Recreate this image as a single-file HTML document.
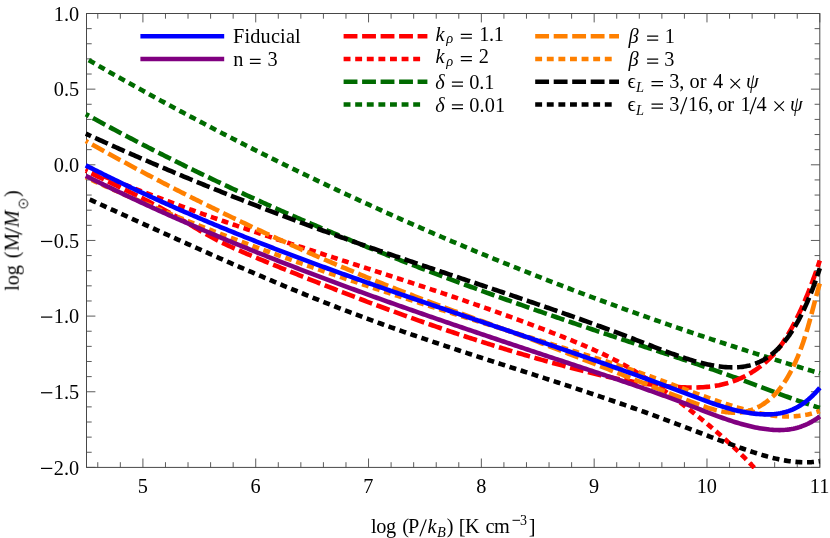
<!DOCTYPE html>
<html><head><meta charset="utf-8"><title>plot</title>
<style>html,body{margin:0;padding:0;background:#fff;}svg{display:block;} text{-webkit-font-smoothing:antialiased;}</style></head>
<body>
<svg width="830" height="538" viewBox="0 0 830 538">
<rect x="0" y="0" width="830" height="538" fill="#ffffff"/>
<defs><clipPath id="cp"><rect x="80.5" y="13.0" width="745.3" height="455.9"/></clipPath></defs>
<rect x="86.50" y="13.50" width="733.30" height="453.90" fill="none" stroke="#484848" stroke-width="1"/>
<path d="M97.78,467.40v-5.2M97.78,13.50v5.2M120.34,467.40v-5.2M120.34,13.50v5.2M142.91,467.40v-8.9M142.91,13.50v8.9M165.47,467.40v-5.2M165.47,13.50v5.2M188.03,467.40v-5.2M188.03,13.50v5.2M210.60,467.40v-5.2M210.60,13.50v5.2M233.16,467.40v-5.2M233.16,13.50v5.2M255.72,467.40v-8.9M255.72,13.50v8.9M278.29,467.40v-5.2M278.29,13.50v5.2M300.85,467.40v-5.2M300.85,13.50v5.2M323.41,467.40v-5.2M323.41,13.50v5.2M345.98,467.40v-5.2M345.98,13.50v5.2M368.54,467.40v-8.9M368.54,13.50v8.9M391.10,467.40v-5.2M391.10,13.50v5.2M413.66,467.40v-5.2M413.66,13.50v5.2M436.23,467.40v-5.2M436.23,13.50v5.2M458.79,467.40v-5.2M458.79,13.50v5.2M481.35,467.40v-8.9M481.35,13.50v8.9M503.92,467.40v-5.2M503.92,13.50v5.2M526.48,467.40v-5.2M526.48,13.50v5.2M549.04,467.40v-5.2M549.04,13.50v5.2M571.61,467.40v-5.2M571.61,13.50v5.2M594.17,467.40v-8.9M594.17,13.50v8.9M616.73,467.40v-5.2M616.73,13.50v5.2M639.30,467.40v-5.2M639.30,13.50v5.2M661.86,467.40v-5.2M661.86,13.50v5.2M684.42,467.40v-5.2M684.42,13.50v5.2M706.98,467.40v-8.9M706.98,13.50v8.9M729.55,467.40v-5.2M729.55,13.50v5.2M752.11,467.40v-5.2M752.11,13.50v5.2M774.67,467.40v-5.2M774.67,13.50v5.2M797.24,467.40v-5.2M797.24,13.50v5.2M819.80,467.40v-8.9M819.80,13.50v8.9M86.50,467.40h8.9M819.80,467.40h-8.9M86.50,452.27h5.2M819.80,452.27h-5.2M86.50,437.14h5.2M819.80,437.14h-5.2M86.50,422.01h5.2M819.80,422.01h-5.2M86.50,406.88h5.2M819.80,406.88h-5.2M86.50,391.75h8.9M819.80,391.75h-8.9M86.50,376.62h5.2M819.80,376.62h-5.2M86.50,361.49h5.2M819.80,361.49h-5.2M86.50,346.36h5.2M819.80,346.36h-5.2M86.50,331.23h5.2M819.80,331.23h-5.2M86.50,316.10h8.9M819.80,316.10h-8.9M86.50,300.97h5.2M819.80,300.97h-5.2M86.50,285.84h5.2M819.80,285.84h-5.2M86.50,270.71h5.2M819.80,270.71h-5.2M86.50,255.58h5.2M819.80,255.58h-5.2M86.50,240.45h8.9M819.80,240.45h-8.9M86.50,225.32h5.2M819.80,225.32h-5.2M86.50,210.19h5.2M819.80,210.19h-5.2M86.50,195.06h5.2M819.80,195.06h-5.2M86.50,179.93h5.2M819.80,179.93h-5.2M86.50,164.80h8.9M819.80,164.80h-8.9M86.50,149.67h5.2M819.80,149.67h-5.2M86.50,134.54h5.2M819.80,134.54h-5.2M86.50,119.41h5.2M819.80,119.41h-5.2M86.50,104.28h5.2M819.80,104.28h-5.2M86.50,89.15h8.9M819.80,89.15h-8.9M86.50,74.02h5.2M819.80,74.02h-5.2M86.50,58.89h5.2M819.80,58.89h-5.2M86.50,43.76h5.2M819.80,43.76h-5.2M86.50,28.63h5.2M819.80,28.63h-5.2M86.50,13.50h8.9M819.80,13.50h-8.9" stroke="#484848" stroke-width="0.9" fill="none"/>
<g clip-path="url(#cp)" fill="none" stroke-linejoin="round">
<path d="M85.80,114.15 L87.60,115.14 L89.40,116.14 L91.20,117.13 L93.00,118.11 L94.80,119.10 L96.60,120.09 L98.40,121.07 L100.20,122.05 L102.00,123.03 L103.80,124.00 L105.60,124.98 L107.40,125.95 L109.20,126.92 L111.00,127.89 L112.80,128.85 L114.60,129.81 L116.40,130.78 L118.20,131.74 L120.00,132.69 L121.80,133.65 L123.60,134.60 L125.40,135.55 L127.20,136.50 L129.00,137.45 L130.80,138.39 L132.60,139.34 L134.40,140.28 L136.20,141.22 L138.00,142.15 L139.80,143.09 L141.60,144.02 L143.40,144.95 L145.20,145.88 L147.00,146.81 L148.80,147.73 L150.60,148.66 L152.40,149.58 L154.20,150.50 L156.00,151.41 L157.80,152.33 L159.60,153.24 L161.40,154.16 L163.20,155.06 L165.00,155.97 L166.80,156.88 L168.60,157.78 L170.40,158.68 L172.20,159.58 L174.00,160.48 L175.80,161.38 L177.60,162.27 L179.40,163.16 L181.20,164.06 L183.00,164.94 L184.80,165.83 L186.60,166.72 L188.40,167.60 L190.20,168.48 L192.00,169.36 L193.80,170.24 L195.60,171.11 L197.40,171.99 L199.20,172.86 L201.20,173.83 L203.20,174.79 L205.20,175.75 L207.20,176.71 L209.20,177.67 L211.20,178.63 L213.20,179.58 L215.20,180.53 L217.20,181.48 L219.20,182.43 L221.20,183.38 L223.20,184.32 L225.20,185.26 L227.20,186.20 L229.20,187.13 L231.20,188.07 L233.20,189.00 L235.20,189.93 L237.20,190.86 L239.20,191.78 L241.20,192.71 L243.20,193.63 L245.20,194.55 L247.20,195.47 L249.20,196.38 L251.20,197.30 L253.20,198.21 L255.20,199.12 L257.20,200.02 L259.20,200.93 L261.20,201.83 L263.20,202.73 L265.20,203.63 L267.20,204.53 L269.20,205.43 L271.20,206.32 L273.20,207.21 L275.20,208.10 L277.20,208.99 L279.20,209.87 L281.20,210.76 L283.20,211.64 L285.20,212.52 L287.20,213.40 L289.20,214.27 L291.20,215.15 L293.20,216.02 L295.20,216.89 L297.20,217.76 L299.20,218.62 L301.20,219.49 L303.20,220.35 L305.20,221.21 L307.20,222.07 L309.20,222.93 L311.20,223.79 L313.20,224.64 L315.20,225.49 L317.20,226.34 L319.20,227.19 L321.20,228.04 L323.20,228.88 L325.20,229.72 L327.20,230.56 L329.20,231.40 L331.20,232.24 L333.20,233.08 L335.20,233.91 L337.20,234.74 L339.20,235.58 L341.20,236.40 L343.20,237.23 L345.20,238.06 L347.20,238.88 L349.20,239.70 L351.20,240.52 L353.20,241.34 L355.20,242.16 L357.20,242.98 L359.20,243.79 L361.20,244.60 L363.20,245.41 L365.20,246.22 L367.20,247.03 L369.20,247.83 L371.20,248.64 L373.20,249.44 L375.20,250.24 L377.20,251.04 L379.20,251.84 L381.20,252.64 L383.20,253.43 L385.20,254.22 L387.20,255.02 L389.20,255.81 L391.20,256.60 L393.20,257.38 L395.20,258.17 L397.20,258.95 L399.20,259.73 L401.20,260.52 L403.20,261.30 L405.20,262.07 L407.20,262.85 L409.20,263.63 L411.20,264.40 L413.20,265.17 L415.20,265.94 L417.20,266.71 L419.20,267.48 L421.20,268.25 L423.20,269.01 L425.20,269.78 L427.20,270.54 L429.20,271.30 L431.20,272.06 L433.20,272.82 L435.20,273.57 L437.20,274.33 L439.20,275.08 L441.20,275.84 L443.20,276.59 L445.20,277.34 L447.20,278.09 L449.20,278.84 L451.20,279.58 L453.20,280.33 L455.20,281.07 L457.20,281.81 L459.20,282.55 L461.20,283.29 L463.20,284.03 L465.20,284.77 L467.20,285.51 L469.20,286.24 L471.20,286.98 L473.20,287.71 L475.20,288.44 L477.20,289.17 L479.20,289.90 L481.20,290.63 L483.20,291.35 L485.20,292.08 L487.20,292.80 L489.20,293.53 L491.20,294.25 L493.20,294.97 L495.20,295.69 L497.20,296.41 L499.20,297.12 L501.20,297.84 L503.20,298.56 L505.20,299.27 L507.20,299.98 L509.20,300.69 L511.20,301.40 L513.20,302.11 L515.20,302.82 L517.20,303.53 L519.20,304.24 L521.20,304.94 L523.20,305.65 L525.20,306.35 L527.20,307.05 L529.20,307.76 L531.20,308.46 L533.20,309.15 L535.20,309.85 L537.20,310.55 L539.20,311.25 L541.20,311.94 L543.20,312.64 L545.20,313.33 L547.20,314.02 L549.20,314.72 L551.20,315.41 L553.20,316.10 L555.20,316.79 L557.20,317.47 L559.20,318.16 L561.20,318.85 L563.20,319.53 L565.20,320.22 L567.20,320.90 L569.20,321.58 L571.20,322.27 L573.20,322.95 L575.20,323.63 L577.20,324.31 L579.20,324.99 L581.20,325.66 L583.20,326.34 L585.20,327.02 L587.20,327.69 L589.20,328.37 L591.20,329.04 L593.20,329.71 L595.20,330.39 L597.20,331.06 L599.20,331.73 L601.20,332.40 L603.20,333.07 L605.20,333.74 L607.20,334.40 L609.20,335.07 L611.20,335.74 L613.20,336.40 L615.20,337.07 L617.20,337.73 L619.20,338.40 L621.20,339.06 L623.20,339.72 L625.20,340.38 L627.20,341.05 L629.20,341.71 L631.20,342.37 L633.20,343.03 L635.20,343.68 L637.20,344.34 L639.20,345.00 L641.20,345.66 L643.20,346.31 L645.20,346.97 L647.20,347.62 L649.20,348.28 L651.20,348.93 L653.20,349.59 L655.20,350.25 L657.20,350.90 L659.20,351.56 L661.20,352.21 L663.20,352.87 L665.20,353.52 L667.20,354.18 L669.20,354.84 L671.20,355.50 L673.20,356.16 L675.20,356.82 L677.20,357.48 L679.20,358.14 L681.20,358.81 L683.20,359.47 L685.20,360.14 L687.20,360.81 L689.20,361.48 L691.20,362.15 L693.20,362.82 L695.20,363.50 L697.20,364.17 L699.20,364.85 L701.20,365.54 L703.20,366.22 L705.20,366.90 L707.20,367.59 L709.20,368.28 L711.20,368.98 L713.20,369.67 L715.20,370.37 L717.20,371.08 L719.20,371.78 L721.20,372.49 L723.20,373.20 L725.20,373.92 L727.20,374.63 L729.20,375.36 L731.20,376.08 L733.20,376.81 L735.20,377.53 L737.20,378.27 L739.20,379.00 L741.20,379.74 L743.20,380.47 L745.20,381.21 L747.20,381.95 L749.20,382.70 L751.20,383.44 L753.20,384.18 L755.20,384.93 L757.20,385.67 L759.20,386.42 L761.20,387.17 L763.20,387.91 L765.20,388.66 L767.20,389.41 L769.20,390.15 L771.20,390.90 L773.20,391.64 L775.20,392.38 L777.20,393.12 L779.20,393.85 L781.20,394.59 L783.20,395.32 L785.20,396.05 L787.20,396.77 L789.20,397.50 L791.20,398.22 L793.20,398.93 L795.20,399.64 L797.20,400.35 L799.20,401.05 L801.20,401.75 L803.20,402.44 L805.20,403.12 L807.20,403.80 L809.20,404.48 L811.20,405.15 L813.20,405.81 L815.20,406.47 L817.20,407.11 L819.20,407.76 L819.80,407.95" stroke="#006b00" stroke-width="4.6" stroke-dasharray="13.85 4.65" stroke-dashoffset="10.30"/>
<path d="M85.80,58.46 L87.60,59.50 L89.40,60.54 L91.20,61.58 L93.00,62.61 L94.80,63.65 L96.60,64.68 L98.40,65.71 L100.20,66.75 L102.00,67.77 L103.80,68.80 L105.60,69.83 L107.40,70.85 L109.20,71.88 L111.00,72.90 L112.80,73.92 L114.60,74.94 L116.40,75.95 L118.20,76.97 L120.00,77.98 L121.80,79.00 L123.60,80.01 L125.40,81.02 L127.20,82.03 L129.00,83.03 L130.80,84.04 L132.60,85.04 L134.40,86.05 L136.20,87.05 L138.00,88.05 L139.80,89.05 L141.60,90.04 L143.40,91.04 L145.20,92.03 L147.00,93.02 L148.80,94.02 L150.60,95.01 L152.40,95.99 L154.20,96.98 L156.00,97.97 L157.80,98.95 L159.60,99.93 L161.40,100.91 L163.20,101.89 L165.00,102.87 L166.80,103.85 L168.60,104.82 L170.40,105.80 L172.20,106.77 L174.00,107.74 L175.80,108.71 L177.60,109.68 L179.40,110.65 L181.20,111.61 L183.00,112.58 L184.80,113.54 L186.60,114.50 L188.40,115.46 L190.20,116.42 L192.00,117.37 L193.80,118.33 L195.60,119.28 L197.40,120.24 L199.20,121.19 L201.00,122.14 L202.80,123.09 L204.60,124.03 L206.40,124.98 L208.20,125.92 L210.00,126.87 L211.80,127.81 L213.60,128.75 L215.40,129.69 L217.20,130.62 L219.00,131.56 L220.80,132.49 L222.60,133.43 L224.40,134.36 L226.20,135.29 L228.00,136.22 L229.80,137.14 L231.60,138.07 L233.40,139.00 L235.20,139.92 L237.00,140.84 L238.80,141.76 L240.60,142.68 L242.40,143.60 L244.20,144.51 L246.00,145.43 L247.80,146.34 L249.60,147.26 L251.40,148.17 L253.20,149.08 L255.00,149.98 L256.80,150.89 L258.60,151.80 L260.40,152.70 L262.20,153.60 L264.00,154.50 L265.80,155.40 L267.60,156.30 L269.40,157.20 L271.20,158.10 L273.00,158.99 L274.80,159.88 L276.60,160.78 L278.40,161.67 L280.20,162.56 L282.00,163.44 L283.80,164.33 L285.60,165.21 L287.40,166.10 L289.20,166.98 L291.00,167.86 L292.80,168.74 L294.60,169.62 L296.40,170.50 L298.20,171.37 L300.00,172.25 L301.80,173.12 L303.80,174.09 L305.80,175.05 L307.80,176.02 L309.80,176.98 L311.80,177.94 L313.80,178.90 L315.80,179.86 L317.80,180.82 L319.80,181.78 L321.80,182.73 L323.80,183.68 L325.80,184.63 L327.80,185.58 L329.80,186.53 L331.80,187.47 L333.80,188.42 L335.80,189.36 L337.80,190.30 L339.80,191.24 L341.80,192.17 L343.80,193.11 L345.80,194.04 L347.80,194.98 L349.80,195.91 L351.80,196.84 L353.80,197.76 L355.80,198.69 L357.80,199.61 L359.80,200.54 L361.80,201.46 L363.80,202.38 L365.80,203.29 L367.80,204.21 L369.80,205.13 L371.80,206.04 L373.80,206.95 L375.80,207.86 L377.80,208.77 L379.80,209.67 L381.80,210.58 L383.80,211.48 L385.80,212.38 L387.80,213.28 L389.80,214.18 L391.80,215.08 L393.80,215.98 L395.80,216.87 L397.80,217.76 L399.80,218.65 L401.80,219.54 L403.80,220.43 L405.80,221.32 L407.80,222.20 L409.80,223.08 L411.80,223.97 L413.80,224.84 L415.80,225.72 L417.80,226.60 L419.80,227.47 L421.80,228.35 L423.80,229.22 L425.80,230.09 L427.80,230.96 L429.80,231.83 L431.80,232.69 L433.80,233.56 L435.80,234.42 L437.80,235.28 L439.80,236.14 L441.80,237.00 L443.80,237.85 L445.80,238.71 L447.80,239.56 L449.80,240.42 L451.80,241.27 L453.80,242.11 L455.80,242.96 L457.80,243.81 L459.80,244.65 L461.80,245.49 L463.80,246.34 L465.80,247.17 L467.80,248.01 L469.80,248.85 L471.80,249.68 L473.80,250.52 L475.80,251.35 L477.80,252.18 L479.80,253.01 L481.80,253.84 L483.80,254.66 L485.80,255.49 L487.80,256.31 L489.80,257.13 L491.80,257.95 L493.80,258.77 L495.80,259.59 L497.80,260.40 L499.80,261.22 L501.80,262.03 L503.80,262.84 L505.80,263.65 L507.80,264.46 L509.80,265.26 L511.80,266.07 L513.80,266.87 L515.80,267.67 L517.80,268.48 L519.80,269.27 L521.80,270.07 L523.80,270.87 L525.80,271.66 L527.80,272.46 L529.80,273.25 L531.80,274.04 L533.80,274.83 L535.80,275.61 L537.80,276.40 L539.80,277.18 L541.80,277.97 L543.80,278.75 L545.80,279.53 L547.80,280.31 L549.80,281.08 L551.80,281.86 L553.80,282.63 L555.80,283.41 L557.80,284.18 L559.80,284.95 L561.80,285.72 L563.80,286.48 L565.80,287.25 L567.80,288.01 L569.80,288.77 L571.80,289.54 L573.80,290.30 L575.80,291.05 L577.80,291.81 L579.80,292.57 L581.80,293.32 L583.80,294.07 L585.80,294.82 L587.80,295.57 L589.80,296.32 L591.80,297.07 L593.80,297.81 L595.80,298.56 L597.80,299.30 L599.80,300.04 L601.80,300.78 L603.80,301.52 L605.80,302.26 L607.80,302.99 L609.80,303.73 L611.80,304.46 L613.80,305.19 L615.80,305.92 L617.80,306.65 L619.80,307.38 L621.80,308.10 L623.80,308.83 L625.80,309.55 L627.80,310.27 L629.80,310.99 L631.80,311.71 L633.80,312.43 L635.80,313.14 L637.80,313.86 L639.80,314.57 L641.80,315.28 L643.80,315.99 L645.80,316.70 L647.80,317.41 L649.80,318.11 L651.80,318.82 L653.80,319.52 L655.80,320.22 L657.80,320.93 L659.80,321.62 L661.80,322.32 L663.80,323.02 L665.80,323.71 L667.80,324.41 L669.80,325.10 L671.80,325.79 L673.80,326.48 L675.80,327.17 L677.80,327.86 L679.80,328.54 L681.80,329.23 L683.80,329.91 L685.80,330.59 L687.80,331.27 L689.80,331.95 L691.80,332.63 L693.80,333.31 L695.80,333.98 L697.80,334.66 L699.80,335.33 L701.80,336.00 L703.80,336.67 L705.80,337.34 L707.80,338.00 L709.80,338.67 L711.80,339.33 L713.80,340.00 L715.80,340.66 L717.80,341.32 L719.80,341.98 L721.80,342.64 L723.80,343.29 L725.80,343.95 L727.80,344.60 L729.80,345.25 L731.80,345.90 L733.80,346.55 L735.80,347.20 L737.80,347.85 L739.80,348.50 L741.80,349.14 L743.80,349.78 L745.80,350.43 L747.80,351.07 L749.80,351.71 L751.80,352.35 L753.80,352.98 L755.80,353.62 L757.80,354.25 L759.80,354.89 L761.80,355.52 L763.80,356.15 L765.80,356.78 L767.80,357.40 L769.80,358.03 L771.80,358.66 L773.80,359.28 L775.80,359.90 L777.80,360.52 L779.80,361.14 L781.80,361.76 L783.80,362.38 L785.80,363.00 L787.80,363.61 L789.80,364.23 L791.80,364.84 L793.80,365.45 L795.80,366.06 L797.80,366.67 L799.80,367.28 L801.80,367.88 L803.80,368.49 L805.80,369.09 L807.80,369.70 L809.80,370.30 L811.80,370.90 L813.80,371.50 L815.80,372.09 L817.80,372.69 L819.80,373.28" stroke="#006b00" stroke-width="4.6" stroke-dasharray="6.86 4.68" stroke-dashoffset="8.16"/>
<path d="M85.80,170.69 L87.60,171.56 L89.40,172.44 L91.20,173.31 L93.00,174.19 L95.00,175.15 L97.00,176.12 L99.00,177.09 L101.00,178.05 L103.00,179.02 L105.00,179.98 L107.00,180.94 L109.00,181.91 L111.00,182.88 L113.00,183.84 L115.00,184.81 L116.80,185.68 L118.60,186.56 L120.40,187.43 L122.20,188.31 L124.00,189.19 L125.80,190.07 L127.60,190.96 L129.40,191.84 L131.20,192.73 L133.00,193.63 L134.80,194.52 L136.60,195.42 L138.40,196.33 L140.20,197.24 L142.00,198.15 L143.80,199.07 L145.60,199.99 L147.40,200.91 L149.20,201.84 L151.00,202.78 L152.80,203.72 L154.60,204.67 L156.40,205.62 L158.20,206.58 L160.00,207.55 L161.80,208.52 L163.60,209.50 L165.40,210.49 L167.20,211.48 L169.00,212.48 L170.80,213.49 L172.60,214.50 L174.40,215.53 L176.20,216.56 L178.00,217.60 L179.80,218.65 L181.60,219.70 L183.40,220.77 L185.20,221.84 L187.00,222.91 L188.80,223.99 L190.60,225.07 L192.40,226.15 L194.20,227.23 L196.00,228.30 L197.80,229.37 L199.60,230.43 L201.40,231.48 L203.20,232.53 L205.00,233.56 L206.80,234.58 L208.60,235.59 L210.40,236.58 L212.20,237.55 L214.00,238.51 L215.80,239.45 L217.60,240.38 L219.40,241.29 L221.20,242.19 L223.00,243.07 L224.80,243.94 L226.80,244.90 L228.80,245.84 L230.80,246.77 L232.80,247.68 L234.80,248.58 L236.80,249.48 L238.80,250.36 L240.80,251.23 L242.80,252.09 L244.80,252.95 L246.80,253.80 L248.80,254.64 L250.80,255.47 L252.80,256.31 L254.80,257.14 L256.80,257.96 L258.80,258.78 L260.80,259.61 L262.80,260.43 L264.80,261.25 L266.80,262.07 L268.80,262.88 L270.80,263.70 L272.80,264.52 L274.80,265.33 L276.80,266.15 L278.80,266.96 L280.80,267.77 L282.80,268.58 L284.80,269.39 L286.80,270.20 L288.80,271.01 L290.80,271.82 L292.80,272.62 L294.80,273.43 L296.80,274.23 L298.80,275.03 L300.80,275.83 L302.80,276.63 L304.80,277.43 L306.80,278.23 L308.80,279.03 L310.80,279.82 L312.80,280.61 L314.80,281.41 L316.80,282.20 L318.80,282.99 L320.80,283.78 L322.80,284.56 L324.80,285.35 L326.80,286.14 L328.80,286.92 L330.80,287.70 L332.80,288.48 L334.80,289.26 L336.80,290.04 L338.80,290.81 L340.80,291.59 L342.80,292.36 L344.80,293.14 L346.80,293.91 L348.80,294.67 L350.80,295.44 L352.80,296.21 L354.80,296.97 L356.80,297.74 L358.80,298.50 L360.80,299.26 L362.80,300.02 L364.80,300.77 L366.80,301.53 L368.80,302.28 L370.80,303.03 L372.80,303.78 L374.80,304.53 L376.80,305.28 L378.80,306.02 L380.80,306.77 L382.80,307.51 L384.80,308.25 L386.80,308.99 L388.80,309.73 L390.80,310.46 L392.80,311.19 L394.80,311.92 L396.80,312.65 L398.80,313.38 L400.80,314.11 L402.80,314.83 L404.80,315.55 L406.80,316.27 L408.80,316.99 L410.80,317.71 L412.80,318.42 L414.80,319.14 L416.80,319.85 L418.80,320.56 L420.80,321.26 L422.80,321.97 L424.80,322.67 L426.80,323.37 L428.80,324.07 L430.80,324.77 L432.80,325.46 L434.80,326.16 L436.80,326.85 L438.80,327.54 L440.80,328.22 L442.80,328.91 L444.80,329.59 L446.80,330.27 L448.80,330.95 L450.80,331.62 L452.80,332.30 L454.80,332.97 L456.80,333.64 L458.80,334.31 L460.80,334.97 L462.80,335.63 L464.80,336.29 L466.80,336.95 L468.80,337.61 L470.80,338.26 L472.80,338.91 L474.80,339.56 L476.80,340.21 L478.80,340.85 L480.80,341.50 L482.80,342.13 L484.80,342.77 L486.80,343.41 L488.80,344.04 L490.80,344.67 L492.80,345.30 L494.80,345.92 L496.80,346.54 L498.80,347.16 L500.80,347.78 L502.80,348.40 L504.80,349.01 L506.80,349.62 L508.80,350.23 L510.80,350.83 L512.80,351.44 L514.80,352.04 L516.80,352.63 L518.80,353.23 L520.80,353.82 L522.80,354.41 L524.80,355.00 L526.80,355.58 L528.80,356.16 L530.80,356.74 L532.80,357.32 L534.80,357.89 L536.80,358.46 L538.80,359.03 L540.80,359.59 L542.80,360.16 L544.80,360.72 L546.80,361.27 L548.80,361.83 L550.80,362.38 L552.80,362.93 L554.80,363.47 L556.80,364.01 L558.80,364.55 L560.80,365.09 L562.80,365.63 L564.80,366.16 L566.80,366.68 L568.80,367.21 L570.80,367.73 L572.80,368.25 L574.80,368.77 L576.80,369.28 L578.80,369.79 L580.80,370.30 L582.80,370.80 L584.80,371.30 L586.80,371.80 L588.80,372.29 L590.80,372.77 L592.80,373.26 L594.80,373.73 L596.80,374.21 L598.80,374.68 L600.80,375.14 L602.80,375.59 L604.80,376.05 L606.80,376.49 L608.80,376.93 L610.80,377.37 L612.80,377.79 L614.80,378.21 L616.80,378.63 L618.80,379.03 L620.80,379.43 L622.80,379.83 L624.80,380.21 L626.80,380.59 L628.80,380.96 L630.80,381.32 L632.80,381.67 L634.80,382.02 L636.80,382.36 L638.80,382.68 L640.80,383.00 L642.80,383.31 L644.80,383.61 L646.80,383.90 L648.80,384.18 L650.80,384.45 L652.80,384.72 L654.80,384.97 L655.00,384.99" stroke="#ff0000" stroke-width="4.6" stroke-dasharray="13.85 4.65" stroke-dashoffset="12.20"/>
<path d="M655.00,384.99 L657.00,385.23 L659.00,385.46 L661.00,385.68 L663.00,385.88 L665.00,386.08 L667.00,386.26 L669.00,386.44 L671.00,386.60 L673.00,386.75 L675.00,386.88 L677.00,387.01 L679.00,387.12 L681.00,387.22 L683.00,387.30 L685.00,387.38 L687.00,387.43 L689.00,387.48 L691.00,387.50 L693.00,387.50 L695.00,387.49 L697.00,387.45 L699.00,387.39 L701.00,387.30 L703.00,387.19 L705.00,387.05 L707.00,386.88 L709.00,386.68 L711.00,386.44 L713.00,386.17 L715.00,385.87 L717.00,385.53 L719.00,385.16 L721.00,384.74 L723.00,384.28 L725.00,383.78 L727.00,383.24 L729.00,382.65 L731.00,382.01 L733.00,381.33 L735.00,380.60 L737.00,379.81 L739.00,378.98 L741.00,378.09 L743.00,377.14 L744.80,376.24 L746.60,375.29 L748.40,374.30 L750.20,373.25 L752.00,372.16 L753.80,371.01 L755.60,369.81 L757.40,368.56 L759.20,367.26 L760.80,366.05 L762.40,364.80 L764.00,363.50 L765.60,362.15 L767.20,360.75 L768.80,359.28 L770.40,357.75 L772.00,356.13 L773.40,354.65 L774.80,353.09 L776.20,351.46 L777.60,349.75 L779.00,347.96 L780.40,346.08 L781.60,344.42 L782.80,342.69 L784.00,340.90 L785.20,339.06 L786.40,337.15 L787.60,335.19 L788.80,333.17 L790.00,331.09 L791.00,329.31 L792.00,327.50 L793.00,325.65 L794.00,323.76 L795.00,321.83 L796.00,319.86 L797.00,317.85 L798.00,315.81 L799.00,313.72 L800.00,311.59 L801.00,309.42 L802.00,307.21 L803.00,304.96 L804.00,302.67 L804.80,300.80 L805.60,298.91 L806.40,296.99 L807.20,295.04 L808.00,293.06 L808.80,291.05 L809.60,289.02 L810.40,286.95 L811.20,284.86 L812.00,282.74 L812.80,280.59 L813.60,278.41 L814.40,276.19 L815.20,273.95 L816.00,271.68 L816.80,269.37 L817.60,267.04 L818.40,264.67 L819.20,262.28 L819.80,260.46" stroke="#ff0000" stroke-width="4.6" stroke-dasharray="13.85 4.65" stroke-dashoffset="14.02"/>
<path d="M85.80,168.60 L87.80,169.46 L89.80,170.31 L91.80,171.16 L93.80,172.01 L95.80,172.85 L97.80,173.69 L99.80,174.52 L101.80,175.35 L103.80,176.18 L105.80,177.01 L107.80,177.83 L109.80,178.66 L111.80,179.47 L113.80,180.29 L115.80,181.10 L117.80,181.91 L119.80,182.71 L121.80,183.52 L123.80,184.32 L125.80,185.12 L127.80,185.91 L129.80,186.70 L131.80,187.49 L133.80,188.28 L135.80,189.06 L137.80,189.84 L139.80,190.62 L141.80,191.40 L143.80,192.17 L145.80,192.94 L147.80,193.71 L149.80,194.48 L151.80,195.24 L153.80,196.00 L155.80,196.76 L157.80,197.52 L159.80,198.27 L161.80,199.02 L163.80,199.77 L165.80,200.52 L167.80,201.26 L169.80,202.00 L171.80,202.74 L173.80,203.48 L175.80,204.22 L177.80,204.95 L179.80,205.68 L181.80,206.41 L183.80,207.14 L185.80,207.87 L187.80,208.59 L189.80,209.31 L191.80,210.03 L193.80,210.75 L195.80,211.46 L197.80,212.18 L199.80,212.89 L201.80,213.60 L203.80,214.31 L205.80,215.01 L207.80,215.72 L209.80,216.42 L211.80,217.12 L213.80,217.82 L215.80,218.52 L217.80,219.21 L219.80,219.91 L221.80,220.60 L223.80,221.29 L225.80,221.98 L227.80,222.67 L229.80,223.36 L231.80,224.04 L233.80,224.73 L235.80,225.41 L237.80,226.09 L239.80,226.77 L241.80,227.45 L243.80,228.13 L245.80,228.80 L247.80,229.48 L249.80,230.15 L251.80,230.82 L253.80,231.50 L255.80,232.17 L257.80,232.83 L259.80,233.50 L261.80,234.17 L263.80,234.83 L265.80,235.50 L267.80,236.16 L269.80,236.82 L271.80,237.49 L273.80,238.15 L275.80,238.81 L277.80,239.47 L279.80,240.12 L281.80,240.78 L283.80,241.44 L285.80,242.09 L287.80,242.75 L289.80,243.40 L291.80,244.06 L293.80,244.71 L295.80,245.36 L297.80,246.01 L299.80,246.66 L301.80,247.31 L303.80,247.96 L305.80,248.61 L307.80,249.26 L309.80,249.91 L311.80,250.56 L313.80,251.21 L315.80,251.85 L317.80,252.50 L319.80,253.15 L321.80,253.79 L323.80,254.44 L325.80,255.08 L327.80,255.73 L329.80,256.37 L331.80,257.02 L333.80,257.66 L335.80,258.31 L337.80,258.95 L339.80,259.60 L341.80,260.24 L343.80,260.88 L345.80,261.53 L347.80,262.17 L349.80,262.82 L351.80,263.46 L353.80,264.11 L355.80,264.75 L357.80,265.39 L359.80,266.04 L361.80,266.68 L363.80,267.33 L365.80,267.97 L367.80,268.62 L369.80,269.27 L371.80,269.91 L373.80,270.56 L375.80,271.21 L377.80,271.85 L379.80,272.50 L381.80,273.15 L383.80,273.80 L385.80,274.45 L387.80,275.10 L389.80,275.75 L391.80,276.40 L393.80,277.05 L395.80,277.70 L397.80,278.35 L399.80,279.01 L401.80,279.66 L403.80,280.32 L405.80,280.97 L407.80,281.63 L409.80,282.28 L411.80,282.94 L413.80,283.60 L415.80,284.26 L417.80,284.92 L419.80,285.58 L421.80,286.24 L423.80,286.91 L425.80,287.57 L427.80,288.24 L429.80,288.90 L431.80,289.57 L433.80,290.24 L435.80,290.91 L437.80,291.58 L439.80,292.25 L441.80,292.92 L443.80,293.60 L445.80,294.27 L447.80,294.95 L449.80,295.63 L451.80,296.31 L453.80,296.99 L455.80,297.67 L457.80,298.36 L459.80,299.04 L461.80,299.73 L463.80,300.41 L465.80,301.10 L467.80,301.80 L469.80,302.49 L471.80,303.18 L473.80,303.88 L475.80,304.57 L477.80,305.27 L479.80,305.97 L481.80,306.68 L483.80,307.38 L485.80,308.09 L487.80,308.79 L489.80,309.50 L491.80,310.21 L493.80,310.93 L495.80,311.64 L497.80,312.36 L499.80,313.08 L501.80,313.80 L503.80,314.52 L505.80,315.25 L507.80,315.97 L509.80,316.70 L511.80,317.43 L513.80,318.17 L515.80,318.90 L517.80,319.64 L519.80,320.38 L521.80,321.12 L523.80,321.86 L525.80,322.61 L527.80,323.36 L529.80,324.11 L531.80,324.86 L533.80,325.62 L535.80,326.37 L537.80,327.14 L539.80,327.90 L541.80,328.66 L543.80,329.43 L545.80,330.20 L547.80,330.97 L549.80,331.75 L551.80,332.53 L553.80,333.31 L555.80,334.09 L557.80,334.88 L559.80,335.66 L561.80,336.45 L563.80,337.25 L565.80,338.05 L567.80,338.85 L569.80,339.65 L571.80,340.46 L573.80,341.28 L575.80,342.10 L577.80,342.92 L579.80,343.75 L581.80,344.60 L583.80,345.44 L585.80,346.30 L587.80,347.16 L589.80,348.04 L591.80,348.92 L593.80,349.81 L595.80,350.72 L597.80,351.63 L599.80,352.56 L601.80,353.50 L603.80,354.45 L605.80,355.41 L607.60,356.29 L609.40,357.18 L611.20,358.09 L613.00,359.00 L614.80,359.93 L616.60,360.87 L618.40,361.82 L620.20,362.79 L622.00,363.77 L623.80,364.77 L625.60,365.78 L627.40,366.80 L629.20,367.84 L631.00,368.90 L632.80,369.97 L634.60,371.05 L636.40,372.14 L638.20,373.26 L640.00,374.38 L641.80,375.52 L643.60,376.67 L645.40,377.83 L647.20,379.01 L649.00,380.19 L650.80,381.39 L652.60,382.61 L654.40,383.83 L656.20,385.06 L658.00,386.31 L659.80,387.57 L661.60,388.83 L663.40,390.11 L665.20,391.40 L667.00,392.70 L668.80,394.01 L670.60,395.32 L672.40,396.65 L674.20,397.99 L676.00,399.33 L677.60,400.53 L679.20,401.74 L680.80,402.96 L682.40,404.18 L684.00,405.41 L685.60,406.64 L687.20,407.88 L688.80,409.13 L690.40,410.38 L692.00,411.64 L693.60,412.90 L695.20,414.17 L696.80,415.44 L698.40,416.72 L700.00,418.01 L701.60,419.30 L703.20,420.60 L704.80,421.91 L706.40,423.23 L708.00,424.55 L709.60,425.88 L711.20,427.22 L712.80,428.58 L714.40,429.94 L716.00,431.31 L717.60,432.69 L719.20,434.08 L720.80,435.48 L722.40,436.89 L724.00,438.31 L725.60,439.75 L727.20,441.20 L728.80,442.66 L730.40,444.13 L732.00,445.61 L733.60,447.11 L735.20,448.62 L736.80,450.15 L738.40,451.69 L740.00,453.24 L741.60,454.81 L743.20,456.39 L744.80,457.99 L746.40,459.61 L748.00,461.24 L749.40,462.68 L750.80,464.13 L752.20,465.59 L753.60,467.07 L755.00,468.57 L756.40,470.07 L757.80,471.59 L759.20,473.12 L760.00,474.01" stroke="#ff0000" stroke-width="4.6" stroke-dasharray="6.85 4.67" stroke-dashoffset="4.20"/>
<path d="M85.80,140.90 L87.60,141.92 L89.40,142.93 L91.20,143.95 L93.00,144.96 L94.80,145.97 L96.60,146.98 L98.40,147.98 L100.20,148.99 L102.00,149.99 L103.80,150.99 L105.60,151.99 L107.40,152.99 L109.20,153.98 L111.00,154.97 L112.80,155.96 L114.60,156.95 L116.40,157.94 L118.20,158.93 L120.00,159.91 L121.80,160.89 L123.60,161.87 L125.40,162.85 L127.20,163.82 L129.00,164.80 L130.80,165.77 L132.60,166.74 L134.40,167.71 L136.20,168.67 L138.00,169.63 L139.80,170.60 L141.60,171.56 L143.40,172.52 L145.20,173.47 L147.00,174.43 L148.80,175.38 L150.60,176.33 L152.40,177.28 L154.20,178.23 L156.00,179.17 L157.80,180.11 L159.60,181.05 L161.40,181.99 L163.20,182.93 L165.00,183.87 L166.80,184.80 L168.60,185.73 L170.40,186.66 L172.20,187.59 L174.00,188.52 L175.80,189.44 L177.60,190.36 L179.40,191.28 L181.20,192.20 L183.00,193.12 L184.80,194.03 L186.60,194.95 L188.40,195.86 L190.20,196.77 L192.00,197.68 L193.80,198.58 L195.60,199.49 L197.40,200.39 L199.20,201.29 L201.00,202.19 L202.80,203.08 L204.60,203.98 L206.40,204.87 L208.20,205.76 L210.00,206.65 L211.80,207.54 L213.60,208.42 L215.40,209.31 L217.20,210.19 L219.00,211.07 L220.80,211.95 L222.60,212.82 L224.40,213.70 L226.20,214.57 L228.20,215.54 L230.20,216.50 L232.20,217.46 L234.20,218.43 L236.20,219.38 L238.20,220.34 L240.20,221.29 L242.20,222.25 L244.20,223.20 L246.20,224.14 L248.20,225.09 L250.20,226.03 L252.20,226.97 L254.20,227.91 L256.20,228.85 L258.20,229.78 L260.20,230.71 L262.20,231.64 L264.20,232.57 L266.20,233.49 L268.20,234.42 L270.20,235.34 L272.20,236.26 L274.20,237.17 L276.20,238.09 L278.20,239.00 L280.20,239.91 L282.20,240.82 L284.20,241.72 L286.20,242.63 L288.20,243.53 L290.20,244.43 L292.20,245.32 L294.20,246.22 L296.20,247.11 L298.20,248.00 L300.20,248.89 L302.20,249.78 L304.20,250.66 L306.20,251.54 L308.20,252.42 L310.20,253.30 L312.20,254.17 L314.20,255.05 L316.20,255.92 L318.20,256.79 L320.20,257.66 L322.20,258.52 L324.20,259.38 L326.20,260.24 L328.20,261.10 L330.20,261.96 L332.20,262.81 L334.20,263.66 L336.20,264.51 L338.20,265.36 L340.20,266.21 L342.20,267.05 L344.20,267.89 L346.20,268.73 L348.20,269.57 L350.20,270.40 L352.20,271.24 L354.20,272.07 L356.20,272.90 L358.20,273.72 L360.20,274.55 L362.20,275.37 L364.20,276.19 L366.20,277.01 L368.20,277.83 L370.20,278.64 L372.20,279.45 L374.20,280.26 L376.20,281.07 L378.20,281.88 L380.20,282.68 L382.20,283.48 L384.20,284.28 L386.20,285.08 L388.20,285.88 L390.20,286.67 L392.20,287.46 L394.20,288.25 L396.20,289.04 L398.20,289.83 L400.20,290.61 L402.20,291.39 L404.20,292.17 L406.20,292.95 L408.20,293.72 L410.20,294.50 L412.20,295.27 L414.20,296.04 L416.20,296.81 L418.20,297.57 L420.20,298.34 L422.20,299.10 L424.20,299.86 L426.20,300.61 L428.20,301.37 L430.20,302.12 L432.20,302.87 L434.20,303.62 L436.20,304.37 L438.20,305.12 L440.20,305.86 L442.20,306.61 L444.20,307.35 L446.20,308.09 L448.20,308.83 L450.20,309.57 L452.20,310.31 L454.20,311.04 L456.20,311.78 L458.20,312.51 L460.20,313.24 L462.20,313.98 L464.20,314.71 L466.20,315.44 L468.20,316.17 L470.20,316.90 L472.20,317.63 L474.20,318.36 L476.20,319.09 L478.20,319.82 L480.20,320.55 L482.20,321.28 L484.20,322.01 L486.20,322.74 L488.20,323.47 L490.20,324.20 L492.20,324.93 L494.20,325.66 L496.20,326.39 L498.20,327.12 L500.20,327.85 L502.20,328.58 L504.20,329.32 L506.20,330.05 L508.20,330.79 L510.20,331.52 L512.20,332.26 L514.20,333.00 L516.20,333.74 L518.20,334.48 L520.20,335.22 L522.20,335.97 L524.20,336.71 L526.20,337.46 L528.20,338.21 L530.20,338.96 L532.20,339.71 L534.20,340.46 L536.20,341.22 L538.20,341.97 L540.20,342.73 L542.20,343.49 L544.20,344.25 L546.20,345.02 L548.20,345.78 L550.20,346.55 L552.20,347.32 L554.20,348.08 L556.20,348.85 L558.20,349.62 L560.20,350.40 L562.20,351.17 L564.20,351.95 L566.20,352.72 L568.20,353.50 L570.20,354.28 L572.20,355.06 L574.20,355.84 L576.20,356.62 L578.20,357.40 L580.20,358.18 L582.20,358.96 L584.20,359.75 L586.20,360.53 L588.20,361.32 L590.20,362.10 L592.20,362.89 L594.20,363.68 L596.20,364.47 L598.20,365.25 L600.20,366.04 L602.20,366.83 L604.20,367.62 L606.20,368.41 L608.20,369.20 L610.20,369.99 L612.20,370.78 L614.20,371.57 L616.20,372.36 L618.20,373.15 L620.20,373.94 L622.20,374.73 L624.20,375.52 L626.20,376.31 L628.20,377.11 L630.20,377.90 L632.20,378.69 L634.20,379.48 L636.20,380.27 L638.20,381.05 L640.20,381.84 L642.20,382.63 L644.20,383.42 L646.20,384.21 L648.20,385.00 L650.20,385.78 L652.20,386.57 L654.20,387.35 L656.20,388.14 L658.20,388.92 L660.20,389.71 L662.20,390.49 L664.20,391.27 L666.20,392.05 L668.20,392.83 L670.20,393.61 L672.20,394.39 L674.20,395.16 L676.20,395.94 L678.20,396.72 L680.20,397.49 L682.20,398.26 L684.20,399.03 L686.20,399.80 L688.20,400.57 L690.20,401.34 L692.20,402.10 L694.20,402.87 L696.20,403.62 L698.20,404.37 L700.20,405.10 L702.20,405.82 L704.20,406.52 L706.20,407.20 L708.20,407.85 L710.20,408.48 L712.20,409.07 L714.20,409.63 L716.20,410.16 L718.20,410.64 L720.20,411.08 L722.20,411.47 L724.20,411.81 L726.20,412.10 L728.20,412.34 L730.20,412.51 L732.20,412.62 L734.20,412.67 L736.20,412.65 L738.20,412.56 L740.20,412.39 L742.20,412.15 L744.20,411.82 L746.20,411.41 L748.20,410.92 L750.20,410.33 L752.20,409.65 L754.20,408.88 L756.20,408.01 L758.00,407.13 L759.80,406.17 L761.60,405.13 L763.40,403.99 L765.20,402.76 L767.00,401.44 L768.60,400.18 L770.20,398.84 L771.80,397.42 L773.40,395.89 L775.00,394.27 L776.40,392.76 L777.80,391.16 L779.20,389.48 L780.60,387.70 L781.80,386.10 L783.00,384.42 L784.20,382.67 L785.40,380.84 L786.60,378.92 L787.80,376.92 L788.80,375.19 L789.80,373.39 L790.80,371.53 L791.80,369.61 L792.80,367.62 L793.80,365.56 L794.80,363.43 L795.80,361.22 L796.80,358.93 L797.60,357.04 L798.40,355.09 L799.20,353.09 L800.00,351.03 L800.80,348.90 L801.60,346.72 L802.40,344.47 L803.20,342.16 L804.00,339.78 L804.80,337.33 L805.60,334.81 L806.20,332.87 L806.80,330.90 L807.40,328.87 L808.00,326.81 L808.60,324.70 L809.20,322.55 L809.80,320.37 L810.40,318.15 L811.00,315.92 L811.60,313.66 L812.20,311.38 L812.80,309.10 L813.40,306.81 L814.00,304.52 L814.60,302.24 L815.20,299.97 L815.80,297.71 L816.40,295.48 L817.00,293.27 L817.60,291.10 L818.20,288.96 L818.80,286.86 L819.40,284.82 L819.80,283.48" stroke="#ff8000" stroke-width="4.6" stroke-dasharray="13.85 4.65" stroke-dashoffset="11.30"/>
<path d="M85.80,177.20 L87.80,178.13 L89.80,179.05 L91.80,179.96 L93.80,180.88 L95.80,181.79 L97.80,182.70 L99.80,183.61 L101.80,184.51 L103.80,185.41 L105.80,186.31 L107.80,187.21 L109.80,188.10 L111.80,188.99 L113.80,189.88 L115.80,190.77 L117.80,191.65 L119.80,192.53 L121.80,193.41 L123.80,194.28 L125.80,195.16 L127.80,196.03 L129.80,196.89 L131.80,197.76 L133.80,198.62 L135.80,199.48 L137.80,200.34 L139.80,201.20 L141.80,202.05 L143.80,202.90 L145.80,203.75 L147.80,204.60 L149.80,205.44 L151.80,206.28 L153.80,207.12 L155.80,207.96 L157.80,208.79 L159.80,209.63 L161.80,210.46 L163.80,211.28 L165.80,212.11 L167.80,212.93 L169.80,213.75 L171.80,214.57 L173.80,215.39 L175.80,216.20 L177.80,217.02 L179.80,217.83 L181.80,218.64 L183.80,219.44 L185.80,220.24 L187.80,221.05 L189.80,221.85 L191.80,222.64 L193.80,223.44 L195.80,224.23 L197.80,225.02 L199.80,225.81 L201.80,226.60 L203.80,227.38 L205.80,228.17 L207.80,228.95 L209.80,229.73 L211.80,230.50 L213.80,231.28 L215.80,232.05 L217.80,232.82 L219.80,233.59 L221.80,234.36 L223.80,235.13 L225.80,235.89 L227.80,236.65 L229.80,237.41 L231.80,238.17 L233.80,238.93 L235.80,239.68 L237.80,240.43 L239.80,241.18 L241.80,241.93 L243.80,242.68 L245.80,243.43 L247.80,244.17 L249.80,244.91 L251.80,245.65 L253.80,246.39 L255.80,247.13 L257.80,247.86 L259.80,248.60 L261.80,249.33 L263.80,250.06 L265.80,250.79 L267.80,251.51 L269.80,252.24 L271.80,252.96 L273.80,253.69 L275.80,254.41 L277.80,255.12 L279.80,255.84 L281.80,256.56 L283.80,257.27 L285.80,257.99 L287.80,258.70 L289.80,259.41 L291.80,260.12 L293.80,260.82 L295.80,261.53 L297.80,262.23 L299.80,262.93 L301.80,263.64 L303.80,264.34 L305.80,265.03 L307.80,265.73 L309.80,266.43 L311.80,267.12 L313.80,267.81 L315.80,268.51 L317.80,269.20 L319.80,269.89 L321.80,270.57 L323.80,271.26 L325.80,271.94 L327.80,272.63 L329.80,273.31 L331.80,273.99 L333.80,274.67 L335.80,275.35 L337.80,276.03 L339.80,276.71 L341.80,277.38 L343.80,278.06 L345.80,278.73 L347.80,279.40 L349.80,280.07 L351.80,280.74 L353.80,281.41 L355.80,282.08 L357.80,282.75 L359.80,283.41 L361.80,284.08 L363.80,284.74 L365.80,285.40 L367.80,286.06 L369.80,286.72 L371.80,287.38 L373.80,288.04 L375.80,288.70 L377.80,289.36 L379.80,290.01 L381.80,290.67 L383.80,291.32 L385.80,291.97 L387.80,292.63 L389.80,293.28 L391.80,293.93 L393.80,294.58 L395.80,295.23 L397.80,295.87 L399.80,296.52 L401.80,297.17 L403.80,297.81 L405.80,298.46 L407.80,299.10 L409.80,299.74 L411.80,300.39 L413.80,301.03 L415.80,301.67 L417.80,302.31 L419.80,302.95 L421.80,303.59 L423.80,304.23 L425.80,304.86 L427.80,305.50 L429.80,306.14 L431.80,306.77 L433.80,307.41 L435.80,308.04 L437.80,308.68 L439.80,309.31 L441.80,309.94 L443.80,310.58 L445.80,311.21 L447.80,311.84 L449.80,312.47 L451.80,313.10 L453.80,313.73 L455.80,314.36 L457.80,314.99 L459.80,315.62 L461.80,316.25 L463.80,316.87 L465.80,317.50 L467.80,318.13 L469.80,318.76 L471.80,319.38 L473.80,320.01 L475.80,320.63 L477.80,321.26 L479.80,321.88 L481.80,322.51 L483.80,323.13 L485.80,323.76 L487.80,324.38 L489.80,325.00 L491.80,325.63 L493.80,326.25 L495.80,326.87 L497.80,327.49 L499.80,328.12 L501.80,328.74 L503.80,329.36 L505.80,329.98 L507.80,330.60 L509.80,331.23 L511.80,331.85 L513.80,332.47 L515.80,333.09 L517.80,333.71 L519.80,334.33 L521.80,334.95 L523.80,335.58 L525.80,336.20 L527.80,336.82 L529.80,337.44 L531.80,338.06 L533.80,338.68 L535.80,339.30 L537.80,339.92 L539.80,340.54 L541.80,341.17 L543.80,341.79 L545.80,342.41 L547.80,343.03 L549.80,343.65 L551.80,344.27 L553.80,344.90 L555.80,345.52 L557.80,346.14 L559.80,346.76 L561.80,347.39 L563.80,348.01 L565.80,348.63 L567.80,349.26 L569.80,349.88 L571.80,350.50 L573.80,351.13 L575.80,351.76 L577.80,352.38 L579.80,353.01 L581.80,353.64 L583.80,354.27 L585.80,354.90 L587.80,355.54 L589.80,356.17 L591.80,356.81 L593.80,357.44 L595.80,358.08 L597.80,358.72 L599.80,359.37 L601.80,360.01 L603.80,360.66 L605.80,361.31 L607.80,361.96 L609.80,362.61 L611.80,363.27 L613.80,363.93 L615.80,364.59 L617.80,365.25 L619.80,365.92 L621.80,366.59 L623.80,367.26 L625.80,367.93 L627.80,368.61 L629.80,369.29 L631.80,369.97 L633.80,370.66 L635.80,371.35 L637.80,372.05 L639.80,372.75 L641.80,373.45 L643.80,374.15 L645.80,374.86 L647.80,375.58 L649.80,376.29 L651.80,377.01 L653.80,377.74 L655.80,378.47 L657.80,379.20 L659.80,379.94 L661.80,380.67 L663.80,381.41 L665.80,382.16 L667.80,382.90 L669.80,383.64 L671.80,384.39 L673.80,385.14 L675.80,385.88 L677.80,386.63 L679.80,387.38 L681.80,388.13 L683.80,388.87 L685.80,389.62 L687.80,390.36 L689.80,391.10 L691.80,391.84 L693.80,392.58 L695.80,393.31 L697.80,394.05 L699.80,394.78 L701.80,395.50 L703.80,396.22 L705.80,396.94 L707.80,397.65 L709.80,398.36 L711.80,399.06 L713.80,399.76 L715.80,400.45 L717.80,401.14 L719.80,401.82 L721.80,402.49 L723.80,403.16 L725.80,403.82 L727.80,404.47 L729.80,405.11 L731.80,405.75 L733.80,406.37 L735.80,406.99 L737.80,407.60 L739.80,408.19 L741.80,408.78 L743.80,409.35 L745.80,409.90 L747.80,410.45 L749.80,410.97 L751.80,411.48 L753.80,411.97 L755.80,412.44 L757.80,412.89 L759.80,413.31 L761.80,413.72 L763.80,414.10 L765.80,414.46 L767.80,414.79 L769.80,415.09 L771.80,415.37 L773.80,415.62 L775.80,415.84 L777.80,416.02 L779.80,416.18 L781.80,416.30 L783.80,416.39 L785.80,416.44 L787.80,416.46 L789.80,416.44 L791.80,416.38 L793.80,416.28 L795.80,416.15 L797.80,415.97 L799.80,415.74 L801.80,415.48 L803.80,415.17 L805.80,414.82 L807.80,414.42 L809.80,413.97 L811.80,413.47 L813.80,412.92 L815.80,412.33 L817.80,411.68 L819.80,410.98" stroke="#ff8000" stroke-width="4.6" stroke-dasharray="6.9 4.7" stroke-dashoffset="5.18"/>
<path d="M85.80,133.69 L87.80,134.61 L89.80,135.52 L91.80,136.43 L93.80,137.35 L95.80,138.25 L97.80,139.16 L99.80,140.07 L101.80,140.97 L103.80,141.87 L105.80,142.77 L107.80,143.67 L109.80,144.57 L111.80,145.46 L113.80,146.35 L115.80,147.25 L117.80,148.14 L119.80,149.02 L121.80,149.91 L123.80,150.79 L125.80,151.68 L127.80,152.56 L129.80,153.43 L131.80,154.31 L133.80,155.19 L135.80,156.06 L137.80,156.93 L139.80,157.80 L141.80,158.67 L143.80,159.54 L145.80,160.40 L147.80,161.26 L149.80,162.13 L151.80,162.99 L153.80,163.84 L155.80,164.70 L157.80,165.55 L159.80,166.41 L161.80,167.26 L163.80,168.11 L165.80,168.96 L167.80,169.80 L169.80,170.65 L171.80,171.49 L173.80,172.33 L175.80,173.17 L177.80,174.01 L179.80,174.84 L181.80,175.68 L183.80,176.51 L185.80,177.34 L187.80,178.17 L189.80,179.00 L191.80,179.83 L193.80,180.65 L195.80,181.48 L197.80,182.30 L199.80,183.12 L201.80,183.94 L203.80,184.75 L205.80,185.57 L207.80,186.38 L209.80,187.19 L211.80,188.00 L213.80,188.81 L215.80,189.62 L217.80,190.42 L219.80,191.23 L221.80,192.03 L223.80,192.83 L225.80,193.63 L227.80,194.43 L229.80,195.23 L231.80,196.02 L233.80,196.81 L235.80,197.60 L237.80,198.39 L239.80,199.18 L241.80,199.97 L243.80,200.76 L245.80,201.54 L247.80,202.32 L249.80,203.10 L251.80,203.88 L253.80,204.66 L255.80,205.44 L257.80,206.21 L259.80,206.99 L261.80,207.76 L263.80,208.53 L265.80,209.30 L267.80,210.06 L269.80,210.83 L271.80,211.60 L273.80,212.36 L275.80,213.12 L277.80,213.88 L279.80,214.64 L281.80,215.40 L283.80,216.15 L285.80,216.91 L287.80,217.66 L289.80,218.41 L291.80,219.16 L293.80,219.91 L295.80,220.66 L297.80,221.40 L299.80,222.15 L301.80,222.89 L303.80,223.63 L305.80,224.37 L307.80,225.11 L309.80,225.85 L311.80,226.59 L313.80,227.32 L315.80,228.05 L317.80,228.79 L319.80,229.52 L321.80,230.25 L323.80,230.97 L325.80,231.70 L327.80,232.42 L329.80,233.15 L331.80,233.87 L333.80,234.59 L335.80,235.31 L337.80,236.03 L339.80,236.75 L341.80,237.46 L343.80,238.18 L345.80,238.89 L347.80,239.60 L349.80,240.31 L351.80,241.02 L353.80,241.73 L355.80,242.44 L357.80,243.14 L359.80,243.85 L361.80,244.55 L363.80,245.25 L365.80,245.95 L367.80,246.65 L369.80,247.35 L371.80,248.05 L373.80,248.74 L375.80,249.43 L377.80,250.13 L379.80,250.82 L381.80,251.51 L383.80,252.20 L385.80,252.89 L387.80,253.58 L389.80,254.27 L391.80,254.95 L393.80,255.64 L395.80,256.32 L397.80,257.00 L399.80,257.69 L401.80,258.37 L403.80,259.05 L405.80,259.73 L407.80,260.41 L409.80,261.09 L411.80,261.77 L413.80,262.45 L415.80,263.12 L417.80,263.80 L419.80,264.47 L421.80,265.15 L423.80,265.82 L425.80,266.50 L427.80,267.17 L429.80,267.85 L431.80,268.52 L433.80,269.19 L435.80,269.86 L437.80,270.54 L439.80,271.21 L441.80,271.88 L443.80,272.55 L445.80,273.22 L447.80,273.89 L449.80,274.56 L451.80,275.23 L453.80,275.90 L455.80,276.57 L457.80,277.24 L459.80,277.91 L461.80,278.58 L463.80,279.25 L465.80,279.93 L467.80,280.60 L469.80,281.27 L471.80,281.94 L473.80,282.61 L475.80,283.28 L477.80,283.95 L479.80,284.62 L481.80,285.29 L483.80,285.96 L485.80,286.63 L487.80,287.31 L489.80,287.98 L491.80,288.65 L493.80,289.33 L495.80,290.00 L497.80,290.67 L499.80,291.35 L501.80,292.02 L503.80,292.70 L505.80,293.38 L507.80,294.05 L509.80,294.73 L511.80,295.41 L513.80,296.09 L515.80,296.77 L517.80,297.45 L519.80,298.13 L521.80,298.81 L523.80,299.49 L525.80,300.18 L527.80,300.86 L529.80,301.55 L531.80,302.23 L533.80,302.92 L535.80,303.61 L537.80,304.30 L539.80,304.99 L541.80,305.68 L543.80,306.37 L545.80,307.06 L547.80,307.76 L549.80,308.45 L551.80,309.15 L553.80,309.85 L555.80,310.54 L557.80,311.24 L559.80,311.95 L561.80,312.65 L563.80,313.35 L565.80,314.06 L567.80,314.76 L569.80,315.47 L571.80,316.18 L573.80,316.89 L575.80,317.61 L577.80,318.32 L579.80,319.03 L581.80,319.75 L583.80,320.47 L585.80,321.19 L587.80,321.91 L589.80,322.64 L591.80,323.36 L593.80,324.09 L595.80,324.82 L597.80,325.55 L599.80,326.28 L601.80,327.01 L603.80,327.75 L605.80,328.49 L607.80,329.23 L609.80,329.97 L611.80,330.71 L613.80,331.46 L615.80,332.20 L617.80,332.95 L619.80,333.70 L621.80,334.46 L623.80,335.21 L625.80,335.97 L627.80,336.73 L629.80,337.49 L631.80,338.26 L633.80,339.02 L635.80,339.79 L637.80,340.56 L639.80,341.34 L641.80,342.11 L643.80,342.89 L645.80,343.67 L647.80,344.45 L649.80,345.23 L651.80,346.00 L653.80,346.78 L655.80,347.55 L657.80,348.32 L659.80,349.09 L661.80,349.85 L663.80,350.60 L665.80,351.35 L667.80,352.10 L669.80,352.83 L671.80,353.56 L673.80,354.28 L675.80,354.99 L677.80,355.69 L679.80,356.38 L681.80,357.06 L683.80,357.73 L685.80,358.38 L687.80,359.02 L689.80,359.64 L691.80,360.25 L693.80,360.84 L695.80,361.42 L697.80,361.98 L699.80,362.51 L701.80,363.03 L703.80,363.52 L705.80,363.99 L707.80,364.44 L709.80,364.85 L711.80,365.24 L713.80,365.60 L715.80,365.94 L717.80,366.24 L719.80,366.50 L721.80,366.74 L723.80,366.94 L725.80,367.10 L727.80,367.23 L729.80,367.31 L731.80,367.36 L733.80,367.36 L735.80,367.32 L737.80,367.23 L739.80,367.08 L741.80,366.87 L743.80,366.60 L745.80,366.27 L747.80,365.86 L749.80,365.39 L751.80,364.83 L753.80,364.20 L755.80,363.48 L757.80,362.67 L759.80,361.77 L761.60,360.88 L763.40,359.91 L765.20,358.86 L767.00,357.72 L768.80,356.49 L770.60,355.17 L772.20,353.92 L773.80,352.60 L775.40,351.19 L777.00,349.71 L778.60,348.13 L780.00,346.69 L781.40,345.17 L782.80,343.58 L784.20,341.92 L785.60,340.18 L787.00,338.37 L788.20,336.75 L789.40,335.07 L790.60,333.32 L791.80,331.52 L793.00,329.65 L794.20,327.72 L795.40,325.72 L796.60,323.65 L797.60,321.88 L798.60,320.05 L799.60,318.18 L800.60,316.25 L801.60,314.27 L802.60,312.24 L803.60,310.16 L804.60,308.02 L805.60,305.83 L806.60,303.58 L807.40,301.74 L808.20,299.86 L809.00,297.95 L809.80,296.00 L810.60,294.01 L811.40,291.98 L812.20,289.91 L813.00,287.81 L813.80,285.66 L814.60,283.48 L815.40,281.25 L816.20,278.98 L817.00,276.67 L817.80,274.32 L818.60,271.93 L819.40,269.50 L819.80,268.26" stroke="#000000" stroke-width="4.6" stroke-dasharray="13.82 4.64" stroke-dashoffset="8.16"/>
<path d="M85.80,197.66 L87.80,198.58 L89.80,199.49 L91.80,200.40 L93.80,201.31 L95.80,202.23 L97.80,203.14 L99.80,204.05 L101.80,204.97 L103.80,205.88 L105.80,206.79 L107.80,207.71 L109.80,208.62 L111.80,209.54 L113.80,210.45 L115.80,211.36 L117.80,212.28 L119.80,213.19 L121.80,214.10 L123.80,215.02 L125.80,215.93 L127.80,216.84 L129.80,217.75 L131.80,218.67 L133.80,219.58 L135.80,220.49 L137.80,221.40 L139.80,222.31 L141.80,223.22 L143.80,224.14 L145.80,225.05 L147.80,225.96 L149.80,226.86 L151.80,227.77 L153.80,228.68 L155.80,229.59 L157.80,230.50 L159.80,231.41 L161.80,232.31 L163.80,233.22 L165.80,234.12 L167.80,235.03 L169.80,235.93 L171.80,236.84 L173.80,237.74 L175.80,238.64 L177.80,239.54 L179.80,240.44 L181.80,241.34 L183.80,242.24 L185.80,243.14 L187.80,244.04 L189.80,244.93 L191.80,245.83 L193.80,246.72 L195.80,247.62 L197.80,248.51 L199.80,249.40 L201.80,250.30 L203.80,251.19 L205.80,252.08 L207.80,252.96 L209.80,253.85 L211.80,254.74 L213.80,255.62 L215.80,256.51 L217.80,257.39 L219.80,258.27 L221.80,259.15 L223.80,260.03 L225.80,260.91 L227.80,261.79 L229.80,262.66 L231.80,263.54 L233.80,264.41 L235.80,265.28 L237.80,266.15 L239.80,267.02 L241.80,267.89 L243.80,268.76 L245.80,269.62 L247.80,270.49 L249.80,271.35 L251.80,272.21 L253.80,273.07 L255.80,273.93 L257.80,274.78 L259.80,275.64 L261.80,276.49 L263.80,277.34 L265.80,278.19 L267.80,279.04 L269.80,279.88 L271.80,280.73 L273.80,281.57 L275.80,282.41 L277.80,283.25 L279.80,284.09 L281.80,284.93 L283.80,285.76 L285.80,286.59 L287.80,287.42 L289.80,288.25 L291.80,289.08 L293.80,289.91 L295.80,290.73 L297.80,291.55 L299.80,292.37 L301.80,293.19 L303.80,294.00 L305.80,294.81 L307.80,295.62 L309.80,296.43 L311.80,297.24 L313.80,298.04 L315.80,298.85 L317.80,299.65 L319.80,300.45 L321.80,301.24 L323.80,302.03 L325.80,302.83 L327.80,303.62 L329.80,304.40 L331.80,305.19 L333.80,305.97 L335.80,306.75 L337.80,307.53 L339.80,308.30 L341.80,309.07 L343.80,309.84 L345.80,310.61 L347.80,311.38 L349.80,312.14 L351.80,312.90 L353.80,313.66 L355.80,314.41 L357.80,315.17 L359.80,315.92 L361.80,316.66 L363.80,317.41 L365.80,318.15 L367.80,318.89 L369.80,319.63 L371.80,320.36 L373.80,321.09 L375.80,321.82 L377.80,322.55 L379.80,323.28 L381.80,324.00 L383.80,324.72 L385.80,325.44 L387.80,326.15 L389.80,326.86 L391.80,327.58 L393.80,328.28 L395.80,328.99 L397.80,329.70 L399.80,330.40 L401.80,331.10 L403.80,331.80 L405.80,332.49 L407.80,333.19 L409.80,333.88 L411.80,334.57 L413.80,335.26 L415.80,335.95 L417.80,336.64 L419.80,337.32 L421.80,338.00 L423.80,338.68 L425.80,339.36 L427.80,340.04 L429.80,340.72 L431.80,341.39 L433.80,342.07 L435.80,342.74 L437.80,343.41 L439.80,344.08 L441.80,344.75 L443.80,345.41 L445.80,346.08 L447.80,346.74 L449.80,347.41 L451.80,348.07 L453.80,348.73 L455.80,349.39 L457.80,350.05 L459.80,350.71 L461.80,351.36 L463.80,352.02 L465.80,352.67 L467.80,353.33 L469.80,353.98 L471.80,354.63 L473.80,355.29 L475.80,355.94 L477.80,356.59 L479.80,357.24 L481.80,357.89 L483.80,358.54 L485.80,359.18 L487.80,359.83 L489.80,360.48 L491.80,361.13 L493.80,361.77 L495.80,362.42 L497.80,363.07 L499.80,363.71 L501.80,364.36 L503.80,365.00 L505.80,365.65 L507.80,366.29 L509.80,366.94 L511.80,367.58 L513.80,368.23 L515.80,368.87 L517.80,369.52 L519.80,370.16 L521.80,370.81 L523.80,371.45 L525.80,372.10 L527.80,372.74 L529.80,373.39 L531.80,374.04 L533.80,374.68 L535.80,375.33 L537.80,375.98 L539.80,376.62 L541.80,377.27 L543.80,377.92 L545.80,378.57 L547.80,379.22 L549.80,379.87 L551.80,380.52 L553.80,381.17 L555.80,381.82 L557.80,382.48 L559.80,383.13 L561.80,383.79 L563.80,384.44 L565.80,385.10 L567.80,385.76 L569.80,386.41 L571.80,387.07 L573.80,387.73 L575.80,388.40 L577.80,389.06 L579.80,389.72 L581.80,390.39 L583.80,391.05 L585.80,391.72 L587.80,392.39 L589.80,393.06 L591.80,393.73 L593.80,394.40 L595.80,395.08 L597.80,395.75 L599.80,396.43 L601.80,397.11 L603.80,397.79 L605.80,398.47 L607.80,399.16 L609.80,399.84 L611.80,400.53 L613.80,401.22 L615.80,401.91 L617.80,402.60 L619.80,403.29 L621.80,403.99 L623.80,404.69 L625.80,405.39 L627.80,406.09 L629.80,406.79 L631.80,407.50 L633.80,408.21 L635.80,408.92 L637.80,409.63 L639.80,410.34 L641.80,411.06 L643.80,411.78 L645.80,412.50 L647.80,413.22 L649.80,413.95 L651.80,414.68 L653.80,415.41 L655.80,416.14 L657.80,416.88 L659.80,417.62 L661.80,418.36 L663.80,419.10 L665.80,419.85 L667.80,420.59 L669.80,421.34 L671.80,422.10 L673.80,422.85 L675.80,423.61 L677.80,424.36 L679.80,425.12 L681.80,425.88 L683.80,426.64 L685.80,427.40 L687.80,428.17 L689.80,428.93 L691.80,429.69 L693.80,430.45 L695.80,431.21 L697.80,431.98 L699.80,432.74 L701.80,433.50 L703.80,434.26 L705.80,435.02 L707.80,435.77 L709.80,436.53 L711.80,437.28 L713.80,438.03 L715.80,438.78 L717.80,439.53 L719.80,440.28 L721.80,441.02 L723.80,441.76 L725.80,442.50 L727.80,443.23 L729.80,443.96 L731.80,444.69 L733.80,445.42 L735.80,446.14 L737.80,446.85 L739.80,447.56 L741.80,448.27 L743.80,448.97 L745.80,449.67 L747.80,450.36 L749.80,451.04 L751.80,451.71 L753.80,452.37 L755.80,453.02 L757.80,453.65 L759.80,454.28 L761.80,454.88 L763.80,455.48 L765.80,456.05 L767.80,456.61 L769.80,457.14 L771.80,457.66 L773.80,458.15 L775.80,458.63 L777.80,459.08 L779.80,459.50 L781.80,459.90 L783.80,460.27 L785.80,460.62 L787.80,460.93 L789.80,461.22 L791.80,461.47 L793.80,461.70 L795.80,461.88 L797.80,462.04 L799.80,462.16 L801.80,462.24 L803.80,462.29 L805.80,462.30 L807.80,462.27 L809.80,462.19 L811.80,462.08 L813.80,461.92 L815.80,461.72 L817.80,461.47 L819.80,461.18" stroke="#000000" stroke-width="4.6" stroke-dasharray="6.9 4.7" stroke-dashoffset="7.28"/>
<path d="M85.80,175.86 L87.60,176.76 L89.40,177.66 L91.20,178.55 L93.00,179.44 L94.80,180.32 L96.60,181.21 L98.40,182.09 L100.20,182.97 L102.00,183.85 L103.80,184.73 L105.60,185.60 L107.40,186.48 L109.40,187.44 L111.40,188.41 L113.40,189.37 L115.40,190.33 L117.40,191.28 L119.40,192.24 L121.40,193.19 L123.40,194.14 L125.40,195.08 L127.40,196.03 L129.40,196.97 L131.40,197.91 L133.40,198.85 L135.40,199.78 L137.40,200.71 L139.40,201.64 L141.40,202.57 L143.40,203.49 L145.40,204.41 L147.40,205.33 L149.40,206.25 L151.40,207.16 L153.40,208.08 L155.40,208.99 L157.40,209.89 L159.40,210.80 L161.40,211.70 L163.40,212.60 L165.40,213.50 L167.40,214.40 L169.40,215.29 L171.40,216.18 L173.40,217.07 L175.40,217.96 L177.40,218.84 L179.40,219.73 L181.40,220.61 L183.40,221.48 L185.40,222.36 L187.40,223.23 L189.40,224.11 L191.40,224.97 L193.40,225.84 L195.40,226.71 L197.40,227.57 L199.40,228.43 L201.40,229.29 L203.40,230.15 L205.40,231.00 L207.40,231.85 L209.40,232.71 L211.40,233.55 L213.40,234.40 L215.40,235.24 L217.40,236.09 L219.40,236.93 L221.40,237.77 L223.40,238.60 L225.40,239.44 L227.40,240.27 L229.40,241.10 L231.40,241.93 L233.40,242.76 L235.40,243.58 L237.40,244.40 L239.40,245.23 L241.40,246.05 L243.40,246.86 L245.40,247.68 L247.40,248.49 L249.40,249.30 L251.40,250.11 L253.40,250.92 L255.40,251.73 L257.40,252.53 L259.40,253.34 L261.40,254.14 L263.40,254.94 L265.40,255.73 L267.40,256.53 L269.40,257.33 L271.40,258.12 L273.40,258.91 L275.40,259.70 L277.40,260.49 L279.40,261.27 L281.40,262.06 L283.40,262.84 L285.40,263.62 L287.40,264.40 L289.40,265.18 L291.40,265.95 L293.40,266.73 L295.40,267.50 L297.40,268.27 L299.40,269.04 L301.40,269.81 L303.40,270.58 L305.40,271.34 L307.40,272.11 L309.40,272.87 L311.40,273.63 L313.40,274.39 L315.40,275.15 L317.40,275.90 L319.40,276.66 L321.40,277.41 L323.40,278.16 L325.40,278.91 L327.40,279.66 L329.40,280.41 L331.40,281.16 L333.40,281.90 L335.40,282.65 L337.40,283.39 L339.40,284.13 L341.40,284.87 L343.40,285.61 L345.40,286.35 L347.40,287.08 L349.40,287.82 L351.40,288.55 L353.40,289.28 L355.40,290.02 L357.40,290.74 L359.40,291.47 L361.40,292.20 L363.40,292.93 L365.40,293.65 L367.40,294.38 L369.40,295.10 L371.40,295.82 L373.40,296.54 L375.40,297.26 L377.40,297.98 L379.40,298.70 L381.40,299.41 L383.40,300.13 L385.40,300.84 L387.40,301.55 L389.40,302.27 L391.40,302.98 L393.40,303.69 L395.40,304.39 L397.40,305.10 L399.40,305.81 L401.40,306.52 L403.40,307.22 L405.40,307.92 L407.40,308.63 L409.40,309.33 L411.40,310.03 L413.40,310.73 L415.40,311.43 L417.40,312.13 L419.40,312.83 L421.40,313.52 L423.40,314.22 L425.40,314.91 L427.40,315.61 L429.40,316.30 L431.40,316.99 L433.40,317.68 L435.40,318.37 L437.40,319.06 L439.40,319.75 L441.40,320.44 L443.40,321.13 L445.40,321.82 L447.40,322.50 L449.40,323.19 L451.40,323.87 L453.40,324.56 L455.40,325.24 L457.40,325.93 L459.40,326.61 L461.40,327.29 L463.40,327.97 L465.40,328.65 L467.40,329.33 L469.40,330.01 L471.40,330.69 L473.40,331.37 L475.40,332.04 L477.40,332.72 L479.40,333.40 L481.40,334.07 L483.40,334.75 L485.40,335.42 L487.40,336.10 L489.40,336.77 L491.40,337.45 L493.40,338.12 L495.40,338.79 L497.40,339.46 L499.40,340.13 L501.40,340.81 L503.40,341.48 L505.40,342.15 L507.40,342.82 L509.40,343.49 L511.40,344.16 L513.40,344.82 L515.40,345.49 L517.40,346.16 L519.40,346.83 L521.40,347.50 L523.40,348.16 L525.40,348.83 L527.40,349.50 L529.40,350.16 L531.40,350.83 L533.40,351.50 L535.40,352.16 L537.40,352.83 L539.40,353.49 L541.40,354.16 L543.40,354.82 L545.40,355.49 L547.40,356.15 L549.40,356.82 L551.40,357.48 L553.40,358.15 L555.40,358.81 L557.40,359.47 L559.40,360.14 L561.40,360.80 L563.40,361.47 L565.40,362.13 L567.40,362.79 L569.40,363.46 L571.40,364.12 L573.40,364.78 L575.40,365.45 L577.40,366.11 L579.40,366.78 L581.40,367.44 L583.40,368.10 L585.40,368.77 L587.40,369.43 L589.40,370.09 L591.40,370.76 L593.40,371.42 L595.40,372.09 L597.40,372.75 L599.40,373.42 L601.40,374.08 L603.40,374.75 L605.40,375.41 L607.40,376.08 L609.40,376.75 L611.40,377.42 L613.40,378.09 L615.40,378.76 L617.40,379.44 L619.40,380.11 L621.40,380.79 L623.40,381.47 L625.40,382.14 L627.40,382.83 L629.40,383.51 L631.40,384.19 L633.40,384.88 L635.40,385.57 L637.40,386.26 L639.40,386.95 L641.40,387.65 L643.40,388.35 L645.40,389.05 L647.40,389.75 L649.40,390.46 L651.40,391.16 L653.40,391.88 L655.40,392.59 L657.40,393.31 L659.40,394.03 L661.40,394.75 L663.40,395.48 L665.40,396.21 L667.40,396.95 L669.40,397.69 L671.40,398.43 L673.40,399.18 L675.40,399.93 L677.40,400.68 L679.40,401.44 L681.40,402.20 L683.40,402.97 L685.40,403.74 L687.40,404.51 L689.40,405.29 L691.40,406.07 L693.40,406.86 L695.40,407.64 L697.40,408.42 L699.40,409.21 L701.40,409.99 L703.40,410.77 L705.40,411.54 L707.40,412.31 L709.40,413.08 L711.40,413.84 L713.40,414.59 L715.40,415.34 L717.40,416.07 L719.40,416.80 L721.40,417.52 L723.40,418.23 L725.40,418.92 L727.40,419.61 L729.40,420.28 L731.40,420.93 L733.40,421.57 L735.40,422.20 L737.40,422.80 L739.40,423.39 L741.40,423.97 L743.40,424.52 L745.40,425.05 L747.40,425.56 L749.40,426.05 L751.40,426.52 L753.40,426.96 L755.40,427.38 L757.40,427.78 L759.40,428.15 L761.40,428.49 L763.40,428.80 L765.40,429.09 L767.40,429.34 L769.40,429.57 L771.40,429.75 L773.40,429.90 L775.40,430.00 L777.40,430.07 L779.40,430.08 L781.40,430.05 L783.40,429.96 L785.40,429.82 L787.40,429.63 L789.40,429.37 L791.40,429.05 L793.40,428.67 L795.40,428.22 L797.40,427.71 L799.40,427.12 L801.40,426.45 L803.40,425.71 L805.40,424.89 L807.40,423.98 L809.20,423.09 L811.00,422.14 L812.80,421.10 L814.60,420.00 L816.40,418.82 L818.20,417.56 L819.80,416.37" stroke="#800080" stroke-width="4.6"/>
<path d="M85.80,165.41 L87.60,166.33 L89.40,167.24 L91.20,168.15 L93.00,169.06 L94.80,169.96 L96.60,170.86 L98.40,171.76 L100.20,172.66 L102.00,173.55 L103.80,174.44 L105.60,175.33 L107.40,176.22 L109.20,177.10 L111.00,177.98 L112.80,178.86 L114.60,179.73 L116.40,180.60 L118.40,181.57 L120.40,182.53 L122.40,183.49 L124.40,184.45 L126.40,185.40 L128.40,186.35 L130.40,187.30 L132.40,188.24 L134.40,189.19 L136.40,190.12 L138.40,191.06 L140.40,191.99 L142.40,192.92 L144.40,193.85 L146.40,194.77 L148.40,195.69 L150.40,196.61 L152.40,197.52 L154.40,198.44 L156.40,199.34 L158.40,200.25 L160.40,201.15 L162.40,202.05 L164.40,202.95 L166.40,203.85 L168.40,204.74 L170.40,205.63 L172.40,206.52 L174.40,207.40 L176.40,208.28 L178.40,209.16 L180.40,210.04 L182.40,210.91 L184.40,211.78 L186.40,212.65 L188.40,213.51 L190.40,214.38 L192.40,215.24 L194.40,216.10 L196.40,216.95 L198.40,217.80 L200.40,218.66 L202.40,219.50 L204.40,220.35 L206.40,221.19 L208.40,222.03 L210.40,222.87 L212.40,223.71 L214.40,224.54 L216.40,225.37 L218.40,226.20 L220.40,227.03 L222.40,227.85 L224.40,228.67 L226.40,229.49 L228.40,230.31 L230.40,231.13 L232.40,231.94 L234.40,232.75 L236.40,233.56 L238.40,234.37 L240.40,235.17 L242.40,235.97 L244.40,236.78 L246.40,237.57 L248.40,238.37 L250.40,239.16 L252.40,239.96 L254.40,240.75 L256.40,241.53 L258.40,242.32 L260.40,243.11 L262.40,243.89 L264.40,244.67 L266.40,245.45 L268.40,246.22 L270.40,247.00 L272.40,247.77 L274.40,248.54 L276.40,249.31 L278.40,250.08 L280.40,250.84 L282.40,251.61 L284.40,252.37 L286.40,253.13 L288.40,253.89 L290.40,254.65 L292.40,255.40 L294.40,256.16 L296.40,256.91 L298.40,257.66 L300.40,258.41 L302.40,259.15 L304.40,259.90 L306.40,260.64 L308.40,261.39 L310.40,262.13 L312.40,262.87 L314.40,263.60 L316.40,264.34 L318.40,265.08 L320.40,265.81 L322.40,266.54 L324.40,267.27 L326.40,268.00 L328.40,268.73 L330.40,269.46 L332.40,270.18 L334.40,270.90 L336.40,271.63 L338.40,272.35 L340.40,273.07 L342.40,273.79 L344.40,274.51 L346.40,275.22 L348.40,275.94 L350.40,276.65 L352.40,277.36 L354.40,278.08 L356.40,278.79 L358.40,279.50 L360.40,280.20 L362.40,280.91 L364.40,281.62 L366.40,282.32 L368.40,283.03 L370.40,283.73 L372.40,284.43 L374.40,285.13 L376.40,285.83 L378.40,286.53 L380.40,287.23 L382.40,287.93 L384.40,288.62 L386.40,289.32 L388.40,290.01 L390.40,290.71 L392.40,291.40 L394.40,292.09 L396.40,292.79 L398.40,293.48 L400.40,294.17 L402.40,294.86 L404.40,295.54 L406.40,296.23 L408.40,296.92 L410.40,297.61 L412.40,298.29 L414.40,298.98 L416.40,299.66 L418.40,300.35 L420.40,301.03 L422.40,301.71 L424.40,302.39 L426.40,303.08 L428.40,303.76 L430.40,304.44 L432.40,305.12 L434.40,305.80 L436.40,306.48 L438.40,307.16 L440.40,307.84 L442.40,308.51 L444.40,309.19 L446.40,309.87 L448.40,310.55 L450.40,311.22 L452.40,311.90 L454.40,312.58 L456.40,313.25 L458.40,313.93 L460.40,314.60 L462.40,315.28 L464.40,315.95 L466.40,316.63 L468.40,317.30 L470.40,317.98 L472.40,318.65 L474.40,319.33 L476.40,320.00 L478.40,320.67 L480.40,321.35 L482.40,322.02 L484.40,322.70 L486.40,323.37 L488.40,324.04 L490.40,324.72 L492.40,325.39 L494.40,326.07 L496.40,326.74 L498.40,327.42 L500.40,328.09 L502.40,328.76 L504.40,329.44 L506.40,330.11 L508.40,330.79 L510.40,331.46 L512.40,332.14 L514.40,332.82 L516.40,333.49 L518.40,334.17 L520.40,334.84 L522.40,335.52 L524.40,336.20 L526.40,336.88 L528.40,337.55 L530.40,338.23 L532.40,338.91 L534.40,339.59 L536.40,340.27 L538.40,340.95 L540.40,341.63 L542.40,342.31 L544.40,342.99 L546.40,343.67 L548.40,344.35 L550.40,345.04 L552.40,345.72 L554.40,346.40 L556.40,347.09 L558.40,347.77 L560.40,348.46 L562.40,349.15 L564.40,349.83 L566.40,350.52 L568.40,351.21 L570.40,351.90 L572.40,352.59 L574.40,353.28 L576.40,353.97 L578.40,354.66 L580.40,355.36 L582.40,356.05 L584.40,356.74 L586.40,357.44 L588.40,358.14 L590.40,358.83 L592.40,359.53 L594.40,360.23 L596.40,360.93 L598.40,361.63 L600.40,362.33 L602.40,363.04 L604.40,363.74 L606.40,364.44 L608.40,365.15 L610.40,365.86 L612.40,366.57 L614.40,367.27 L616.40,367.98 L618.40,368.70 L620.40,369.41 L622.40,370.12 L624.40,370.84 L626.40,371.55 L628.40,372.27 L630.40,372.99 L632.40,373.71 L634.40,374.43 L636.40,375.15 L638.40,375.88 L640.40,376.60 L642.40,377.33 L644.40,378.06 L646.40,378.78 L648.40,379.51 L650.40,380.25 L652.40,380.98 L654.40,381.71 L656.40,382.45 L658.40,383.19 L660.40,383.93 L662.40,384.67 L664.40,385.41 L666.40,386.15 L668.40,386.90 L670.40,387.65 L672.40,388.39 L674.40,389.14 L676.40,389.90 L678.40,390.65 L680.40,391.40 L682.40,392.16 L684.40,392.92 L686.40,393.68 L688.40,394.44 L690.40,395.20 L692.40,395.96 L694.40,396.72 L696.40,397.47 L698.40,398.22 L700.40,398.97 L702.40,399.71 L704.40,400.44 L706.40,401.16 L708.40,401.88 L710.40,402.58 L712.40,403.28 L714.40,403.96 L716.40,404.63 L718.40,405.29 L720.40,405.93 L722.40,406.56 L724.40,407.17 L726.40,407.76 L728.40,408.33 L730.40,408.89 L732.40,409.42 L734.40,409.93 L736.40,410.42 L738.40,410.89 L740.40,411.33 L742.40,411.74 L744.40,412.13 L746.40,412.49 L748.40,412.83 L750.40,413.13 L752.40,413.41 L754.40,413.65 L756.40,413.86 L758.40,414.04 L760.40,414.18 L762.40,414.29 L764.40,414.36 L766.40,414.40 L768.40,414.39 L770.40,414.33 L772.40,414.23 L774.40,414.07 L776.40,413.85 L778.40,413.58 L780.40,413.23 L782.40,412.82 L784.40,412.34 L786.40,411.77 L788.40,411.13 L790.40,410.41 L792.40,409.59 L794.40,408.68 L796.20,407.78 L798.00,406.81 L799.80,405.74 L801.60,404.60 L803.40,403.36 L805.20,402.04 L806.80,400.78 L808.40,399.45 L810.00,398.05 L811.60,396.57 L813.20,395.01 L814.60,393.58 L816.00,392.08 L817.40,390.53 L818.80,388.90 L819.80,387.71" stroke="#0000ff" stroke-width="4.6"/>
</g>
<path d="M140.4,36.2h83.8" stroke="#0000ff" stroke-width="4.6" fill="none"/>
<path d="M140.4,59.0h83.8" stroke="#800080" stroke-width="4.6" fill="none"/>
<path d="M343.6,36.2h83.8" stroke="#ff0000" stroke-width="4.6" stroke-dasharray="13.85 4.65" fill="none"/>
<path d="M343.6,59.0h80.0" stroke="#ff0000" stroke-width="4.6" stroke-dasharray="6.9 4.7" fill="none"/>
<path d="M343.6,81.8h83.8" stroke="#006b00" stroke-width="4.6" stroke-dasharray="13.85 4.65" fill="none"/>
<path d="M343.6,104.55h80.0" stroke="#006b00" stroke-width="4.6" stroke-dasharray="6.9 4.7" fill="none"/>
<path d="M535.2,36.2h83.8" stroke="#ff8000" stroke-width="4.6" stroke-dasharray="13.85 4.65" fill="none"/>
<path d="M535.2,59.0h80.0" stroke="#ff8000" stroke-width="4.6" stroke-dasharray="6.9 4.7" fill="none"/>
<path d="M535.2,81.8h83.8" stroke="#000000" stroke-width="4.6" stroke-dasharray="13.85 4.65" fill="none"/>
<path d="M535.2,104.55h80.0" stroke="#000000" stroke-width="4.6" stroke-dasharray="6.9 4.7" fill="none"/>
<g font-family="'Liberation Serif', serif" font-size="20.3" fill="#000000" style="opacity:0.999">
<text x="142.7" y="492.6" text-anchor="middle">5</text>
<text x="255.5" y="492.6" text-anchor="middle">6</text>
<text x="368.3" y="492.6" text-anchor="middle">7</text>
<text x="481.2" y="492.6" text-anchor="middle">8</text>
<text x="594.0" y="492.6" text-anchor="middle">9</text>
<text x="706.8" y="492.6" text-anchor="middle">10</text>
<text x="819.6" y="492.6" text-anchor="middle">11</text>
<text x="79.1" y="20.7" text-anchor="end">1.0</text>
<text x="79.1" y="96.3" text-anchor="end">0.5</text>
<text x="79.1" y="172.0" text-anchor="end">0.0</text>
<text x="79.1" y="247.6" text-anchor="end">0.5</text>
<path d="M41.0,241.45H52.3" stroke="#000" stroke-width="1.25" fill="none"/>
<text x="79.1" y="323.3" text-anchor="end">1.0</text>
<path d="M41.0,317.10H52.3" stroke="#000" stroke-width="1.25" fill="none"/>
<text x="79.1" y="398.9" text-anchor="end">1.5</text>
<path d="M41.0,392.75H52.3" stroke="#000" stroke-width="1.25" fill="none"/>
<text x="79.1" y="474.6" text-anchor="end">2.0</text>
<path d="M41.0,468.40H52.3" stroke="#000" stroke-width="1.25" fill="none"/>
<text x="232.92" y="43.00" font-size="20.30" letter-spacing="0.194">Fiducial</text>
<text x="233.23" y="66.10" font-size="20.30">n</text>
<path d="M249.90,59.40H260.60M249.90,63.25H260.60" stroke="#000" stroke-width="1.25" fill="none"/>
<text x="267.43" y="66.10" font-size="20.30">3</text>
<text x="435.62" y="41.00" font-size="20.30" font-style="italic">k</text>
<text x="446.27" y="43.30" font-size="14.40" font-style="italic">ρ</text>
<path d="M460.80,34.30H471.90M460.80,38.15H471.90" stroke="#000" stroke-width="1.25" fill="none"/>
<text x="479.32" y="41.00" font-size="20.30" letter-spacing="-0.336">1.1</text>
<text x="435.62" y="63.40" font-size="20.30" font-style="italic">k</text>
<text x="446.27" y="65.70" font-size="14.40" font-style="italic">ρ</text>
<path d="M460.80,56.70H471.90M460.80,60.55H471.90" stroke="#000" stroke-width="1.25" fill="none"/>
<text x="478.81" y="63.40" font-size="20.30">2</text>
<text x="435.31" y="88.90" font-size="20.30" font-style="italic">δ</text>
<path d="M451.90,82.20H463.00M451.90,86.05H463.00" stroke="#000" stroke-width="1.25" fill="none"/>
<text x="469.13" y="88.90" font-size="20.30" letter-spacing="0.009">0.1</text>
<text x="435.31" y="111.50" font-size="20.30" font-style="italic">δ</text>
<path d="M451.90,104.80H463.00M451.90,108.65H463.00" stroke="#000" stroke-width="1.25" fill="none"/>
<text x="469.13" y="111.50" font-size="20.30" letter-spacing="0.156">0.01</text>
<text x="628.43" y="42.90" font-size="20.30" font-style="italic">β</text>
<path d="M647.10,36.20H658.20M647.10,40.05H658.20" stroke="#000" stroke-width="1.25" fill="none"/>
<text x="664.82" y="42.90" font-size="20.30">1</text>
<text x="628.43" y="65.90" font-size="20.30" font-style="italic">β</text>
<path d="M647.10,59.20H658.20M647.10,63.05H658.20" stroke="#000" stroke-width="1.25" fill="none"/>
<text x="664.33" y="65.90" font-size="20.30">3</text>
<text x="627.53" y="88.40" font-size="20.30">ϵ</text>
<text x="636.07" y="92.20" font-size="14.40" font-style="italic">L</text>
<path d="M651.50,81.70H663.00M651.50,85.55H663.00" stroke="#000" stroke-width="1.25" fill="none"/>
<text x="669.13" y="88.40" font-size="20.30">3,</text>
<text x="689.53" y="88.40" font-size="20.30">or</text>
<text x="712.90" y="88.40" font-size="20.30">4</text>
<path d="M730.45,78.80L740.05,88.40M730.45,88.40L740.05,78.80" stroke="#000" stroke-width="1.2" fill="none"/>
<text x="745.99" y="88.40" font-size="20.30" font-style="italic">ψ</text>
<text x="627.53" y="110.90" font-size="20.30">ϵ</text>
<text x="636.07" y="114.70" font-size="14.40" font-style="italic">L</text>
<path d="M651.50,104.20H663.00M651.50,108.05H663.00" stroke="#000" stroke-width="1.25" fill="none"/>
<text x="669.13" y="110.90" font-size="20.30">3</text>
<path d="M680.65,114.30L686.75,97.30" stroke="#000" stroke-width="1.2" fill="none"/>
<text x="688.02" y="110.90" font-size="20.30">16,</text>
<text x="717.23" y="110.90" font-size="20.30">or</text>
<text x="740.52" y="110.90" font-size="20.30">1</text>
<path d="M750.05,114.30L756.15,97.30" stroke="#000" stroke-width="1.2" fill="none"/>
<text x="756.60" y="110.90" font-size="20.30">4</text>
<path d="M774.45,101.35L783.95,110.85M774.45,110.85L783.95,101.35" stroke="#000" stroke-width="1.2" fill="none"/>
<text x="790.09" y="110.90" font-size="20.30" font-style="italic">ψ</text>
<text x="370.89" y="533.00" font-size="20.30" letter-spacing="-0.274">log</text>
<text x="402.21" y="533.00" font-size="20.30">(</text>
<text x="408.12" y="533.00" font-size="20.30">P</text>
<path d="M419.85,536.40L426.25,519.40" stroke="#000" stroke-width="1.2" fill="none"/>
<text x="427.52" y="533.00" font-size="20.30" font-style="italic">k</text>
<text x="437.07" y="537.00" font-size="14.40" font-style="italic">B</text>
<text x="446.85" y="533.00" font-size="20.30">)</text>
<text x="458.69" y="533.00" font-size="20.30">[</text>
<text x="465.12" y="533.00" font-size="20.30">K</text>
<text x="485.43" y="533.00" font-size="20.30" letter-spacing="-0.410">cm</text>
<path d="M512.5,520.3H520.0" stroke="#000" stroke-width="1.0" fill="none"/>
<text x="519.93" y="524.90" font-size="14.00">3</text>
<text x="528.77" y="533.00" font-size="20.30">]</text>
<g transform="translate(18.7,290.3) rotate(-90)">
<text x="-0.41" y="0.00" font-size="20.30" letter-spacing="-0.224">log</text>
<text x="32.11" y="0.00" font-size="20.30">(</text>
<text x="39.22" y="0.00" font-size="20.30">M</text>
<path d="M55.85,3.40L62.45,-13.60" stroke="#000" stroke-width="1.2" fill="none"/>
<text x="63.04" y="0.00" font-size="20.30" font-style="italic">M</text>
<circle cx="86.6" cy="4.7" r="4.3" fill="none" stroke="#000" stroke-width="0.95"/><circle cx="86.6" cy="4.7" r="1.0" fill="#000"/>
<text x="93.25" y="0.00" font-size="20.30">)</text>
</g>
</g>
</svg>
</body></html>
